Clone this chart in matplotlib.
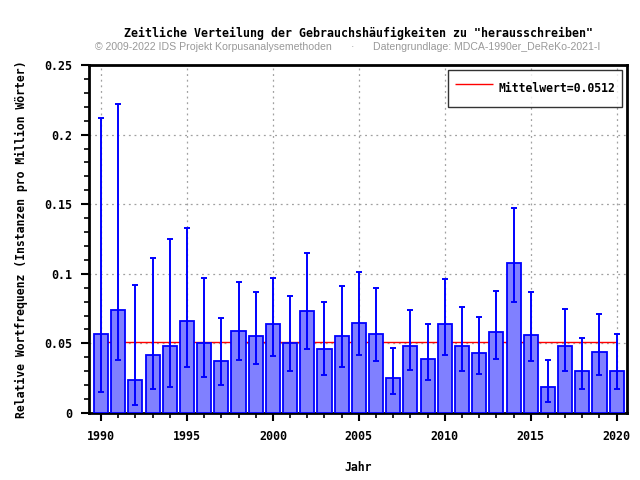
import matplotlib
matplotlib.use("Agg")
import matplotlib.pyplot as plt
from matplotlib.ticker import MultipleLocator, FuncFormatter

years = list(range(1990, 2021))
values = [0.057, 0.074, 0.024, 0.042, 0.048, 0.066, 0.050, 0.037, 0.059, 0.055,
          0.064, 0.050, 0.073, 0.046, 0.055, 0.065, 0.057, 0.025, 0.048, 0.039,
          0.064, 0.048, 0.043, 0.058, 0.108, 0.056, 0.019, 0.048, 0.030, 0.044,
          0.030]
err_low = [0.015, 0.038, 0.006, 0.017, 0.019, 0.033, 0.026, 0.020, 0.038, 0.035,
           0.041, 0.030, 0.046, 0.027, 0.033, 0.042, 0.037, 0.014, 0.031, 0.024,
           0.042, 0.030, 0.028, 0.039, 0.080, 0.037, 0.008, 0.030, 0.017, 0.027,
           0.017]
err_high = [0.212, 0.222, 0.092, 0.111, 0.125, 0.133, 0.097, 0.068, 0.094, 0.087,
            0.097, 0.084, 0.115, 0.080, 0.091, 0.101, 0.090, 0.047, 0.074, 0.064,
            0.096, 0.076, 0.069, 0.088, 0.147, 0.087, 0.038, 0.075, 0.054, 0.071,
            0.057]
mean_value = 0.0512
mean_label = "Mittelwert=0.0512"
title = 'Zeitliche Verteilung der Gebrauchshäufigkeiten zu "herausschreiben"'
sub_left = "© 2009-2022 IDS Projekt Korpusanalysemethoden"
sub_right = "Datengrundlage: MDCA-1990er_DeReKo-2021-I"
xlabel = "Jahr"
ylabel = "Relative Wortfrequenz (Instanzen pro Million Wörter)"

mono = "DejaVu Sans Mono"
fig = plt.figure(figsize=(6.4, 4.8), dpi=100)
ax = fig.add_axes([89/640, 1-413/480, (627-89)/640, (413-65)/480])

ax.hlines(mean_value, years[0], years[-1], color="#FF0000", lw=1.0, zorder=2, label=mean_label)
ax.bar(years, values, width=0.82, color="#8080FF", edgecolor="#0000FF", linewidth=1.3, zorder=3)
yerr = [[v - l for v, l in zip(values, err_low)], [h - v for v, h in zip(values, err_high)]]
ax.errorbar(years, values, yerr=yerr, fmt="none", ecolor="#0000FF", elinewidth=1.4,
            capsize=2.3, capthick=1.4, zorder=4)

ax.set_xlim(1989.3, 2020.6)
ax.set_ylim(0, 0.25)
ax.xaxis.set_major_locator(MultipleLocator(5))
ax.xaxis.set_minor_locator(MultipleLocator(1))
ax.yaxis.set_major_locator(MultipleLocator(0.05))
ax.yaxis.set_minor_locator(MultipleLocator(0.01))
ax.yaxis.set_major_formatter(FuncFormatter(lambda v, p: "0" if v == 0 else ("%g" % round(v, 3))))
ax.grid(True, which="major", color="#a0a0a0", linestyle=(0, (1.5, 3)), linewidth=0.9, zorder=0)
ax.set_axisbelow(True)
ax.tick_params(which="major", direction="out", length=6, width=1.5, labelsize=8.4, pad=6)
ax.tick_params(which="minor", direction="out", length=3.6, width=1.2)
for lab in ax.get_xticklabels() + ax.get_yticklabels():
    lab.set_fontfamily(mono)
    lab.set_fontweight("bold")
for s in ax.spines.values():
    s.set_linewidth(2)

ax.set_xlabel(xlabel, fontfamily=mono, fontweight="bold", fontsize=8.3, labelpad=13)
ax.set_ylabel(ylabel, fontfamily=mono, fontweight="bold", fontsize=8.3, labelpad=12)

fig.text(358/640, 1-33/480, title, ha="center", va="center", fontfamily=mono,
         fontweight="bold", fontsize=8.4)
fig.text(95/640, 1-47/480, sub_left, ha="left", va="center", fontfamily="Liberation Sans",
         fontsize=7.55, color="#999999")
fig.text(353/640, 1-47/480, "·", ha="center", va="center", fontfamily="Liberation Sans",
         fontsize=7.55, color="#999999")
fig.text(600/640, 1-47/480, sub_right, ha="right", va="center", fontfamily="Liberation Sans",
         fontsize=7.55, color="#999999")

leg = ax.legend(loc="upper right", prop={"family": mono, "weight": "bold", "size": 8.3},
                frameon=True, fancybox=False, edgecolor="black", borderpad=0.6,
                handlelength=3.3, handleheight=2.8, handletextpad=0.5,
                borderaxespad=0.4)
leg.get_frame().set_linewidth(1.0)

fig.savefig("out.png", dpi=100)
